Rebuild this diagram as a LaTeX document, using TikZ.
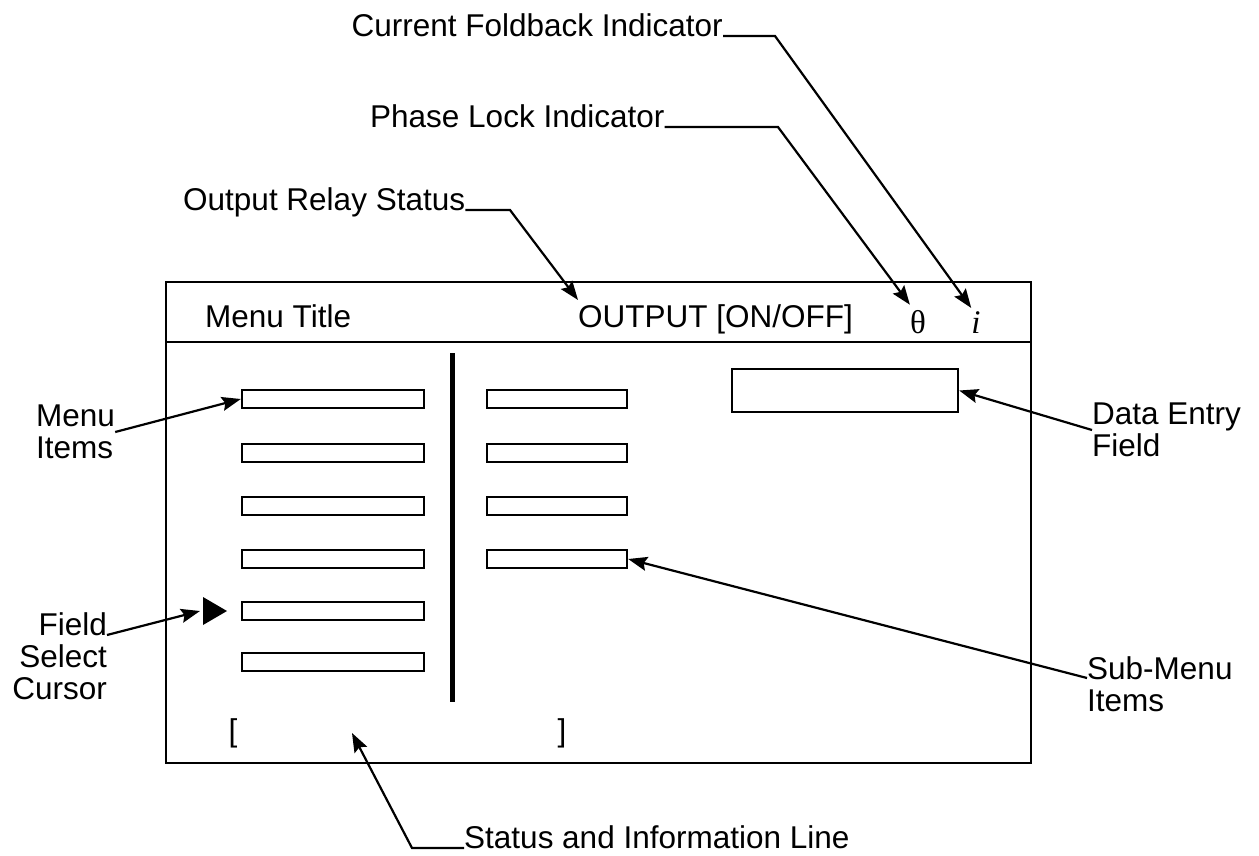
\documentclass[tikz,border=0pt]{standalone}
\usepackage{fontspec}
\setmainfont{Liberation Sans}
\newfontfamily\greekfont{Liberation Serif}
\usepackage{tikz}
\usetikzlibrary{arrows.meta, positioning}
\tikzstyle{callout} = [inner sep=0pt, font=\fontsize{31.5}{32}\selectfont]
\tikzstyle{itembox} = [rectangle, draw=black, line width=2.4pt, minimum width=182pt, minimum height=18pt, inner sep=0pt]
\tikzstyle{subbox} = [itembox, minimum width=140pt]
\tikzstyle{arrow} = [line width=2.2pt, -{Stealth[length=19pt, width=14pt, inset=3pt]}]

\begin{document}
\begin{tikzpicture}[x=1pt, y=-1pt]
\useasboundingbox (0,0) rectangle (1259,855);

% screen frame
\draw[line width=2.6pt] (166,282) rectangle (1031,763);
\draw[line width=2.6pt] (166,342) -- (1031,342);
\draw[line width=5.5pt] (452.5,353) -- (452.5,702);

% title bar
\node (title) [callout, anchor=base west] at (205,327) {Menu Title};
\node (outp) [callout, anchor=base west] at (578,327) {OUTPUT [ON/OFF]};
\node (theta) [callout, anchor=base, font=\greekfont\fontsize{33}{33}\selectfont] at (918,333) {θ};
\node (ci) [callout, anchor=base, font=\greekfont\itshape\fontsize{33}{33}\selectfont] at (976,333) {i};

% menu and sub-menu items
\foreach \y [count=\i] in {399,453,506,559,611,662}
  \node (m\i) [itembox] at (333,\y) {};
\foreach \y [count=\i] in {399,453,506,559}
  \node (s\i) [subbox] at (557,\y) {};
\node (field) [itembox, minimum width=226pt, minimum height=43pt] at (845,390.5) {};

% cursor
\fill (203,597) -- (227,611) -- (203,625) -- cycle;
\coordinate (cursor) at (200,611);

% status line
\node (lbr) [callout] at (233,733) {[};
\node (rbr) [callout] at (562,733) {]};
\coordinate (statuspt) at (352,733);

% callouts
\node (foldback) [callout, anchor=base east] at (723,36) {Current Foldback Indicator};
\node (phase) [callout, anchor=base west] at (370,127) {Phase Lock Indicator};
\node (relay) [callout, anchor=base west] at (183,210) {Output Relay Status};
\node (status) [callout, anchor=base west] at (464,848) {Status and Information Line};
\node (mitems) [callout, align=left, anchor=west] at (36,432) {Menu\\Items};
\node (fsc) [callout, align=right, anchor=north east] at (107,612) {Field\\Select\\Cursor};
\node (dfield) [callout, align=left, anchor=west] at (1092,430) {Data Entry\\Field};
\node (smitems) [callout, align=left, anchor=west] at (1087,684) {Sub-Menu\\Items};

\draw [arrow] (foldback.base east) -- (775,36) -- ([yshift=3pt]ci.north west);
\draw [arrow] (phase.base east) -- (778,127) -- ([yshift=5pt]theta.north west);
\draw [arrow] (relay.base east) -- (510,210) -- ([yshift=4pt]outp.north west);
\draw [arrow] (status.base west) -- (412,848) -- (statuspt);
\draw [arrow] (mitems.east) -- (m1.west);
\draw [arrow] ([yshift=-23pt]fsc.north east) -- (cursor);
\draw [arrow] (dfield.west) -- (field.east);
\draw [arrow] ([yshift=6pt]smitems.west) -- (s4.east);

\end{tikzpicture}
\end{document}
